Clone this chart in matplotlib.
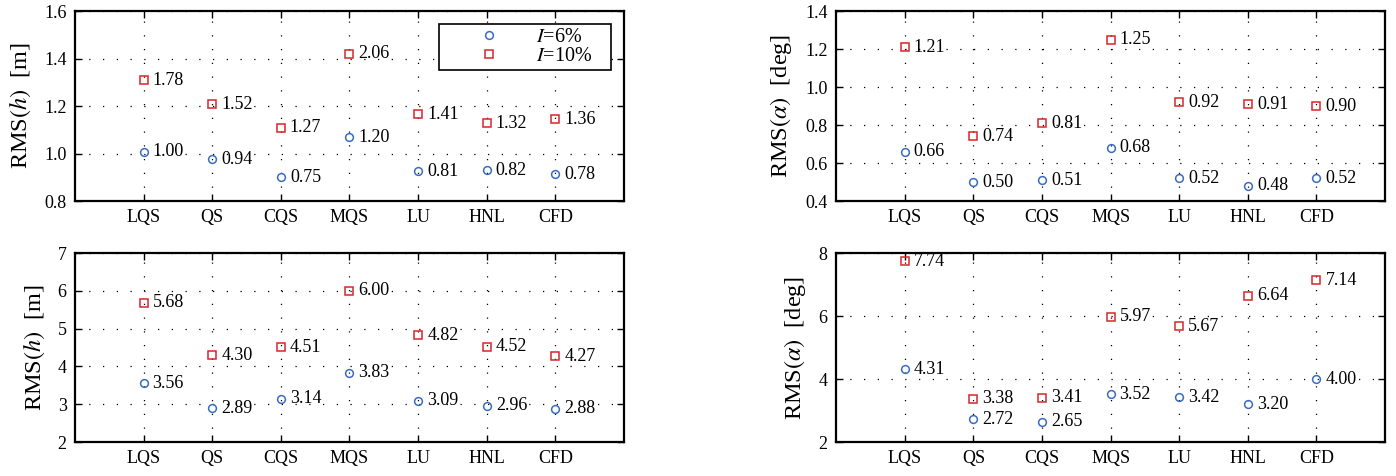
import matplotlib
matplotlib.use('Agg')
import matplotlib.pyplot as plt
from matplotlib.lines import Line2D

plt.rcParams['font.family'] = ['Liberation Serif', 'DejaVu Serif']
plt.rcParams['mathtext.fontset'] = 'stix'

methods = ['LQS', 'QS', 'CQS', 'MQS', 'LU', 'HNL', 'CFD']

# heave, top panel (marker heights and printed labels)
h_top_i6 = [1.008, 0.976, 0.90, 1.068, 0.926, 0.93, 0.912]
h_top_i10 = [1.309, 1.208, 1.108, 1.42, 1.165, 1.127, 1.145]
h_top_i6_txt = ['1.00', '0.94', '0.75', '1.20', '0.81', '0.82', '0.78']
h_top_i10_txt = ['1.78', '1.52', '1.27', '2.06', '1.41', '1.32', '1.36']

# pitch, top panel
a_top_i6 = [0.66, 0.50, 0.51, 0.68, 0.52, 0.48, 0.52]
a_top_i10 = [1.21, 0.74, 0.81, 1.25, 0.92, 0.91, 0.90]

# heave, bottom panel
h_bot_i6 = [3.56, 2.89, 3.14, 3.83, 3.09, 2.96, 2.88]
h_bot_i10 = [5.68, 4.30, 4.51, 6.00, 4.82, 4.52, 4.27]

# pitch, bottom panel
a_bot_i6 = [4.31, 2.72, 2.65, 3.52, 3.42, 3.20, 4.00]
a_bot_i10 = [7.74, 3.38, 3.41, 5.97, 5.67, 6.64, 7.14]

blue = '#3a6cc0'
red = '#d7262b'

fig = plt.figure(figsize=(13.96, 4.76), dpi=100)
w = 0.3933
axs = [
    fig.add_axes([0.0537, 0.5777, w, 0.399]),
    fig.add_axes([0.5989, 0.5777, w, 0.399]),
    fig.add_axes([0.0537, 0.0714, w, 0.397]),
    fig.add_axes([0.5989, 0.0714, w, 0.397]),
]

panels = [
    (axs[0], h_top_i6, h_top_i10, h_top_i6_txt, h_top_i10_txt, (0.8, 1.6), [0.8, 1.0, 1.2, 1.4, 1.6], '%.1f', r'RMS$(h)$  [m]'),
    (axs[1], a_top_i6, a_top_i10, None, None, (0.4, 1.4), [0.4, 0.6, 0.8, 1.0, 1.2, 1.4], '%.1f', r'RMS$(\alpha)$  [deg]'),
    (axs[2], h_bot_i6, h_bot_i10, None, None, (2, 7), [2, 3, 4, 5, 6, 7], '%d', r'RMS$(h)$  [m]'),
    (axs[3], a_bot_i6, a_bot_i10, None, None, (2, 8), [2, 4, 6, 8], '%d', r'RMS$(\alpha)$  [deg]'),
]

x = list(range(1, len(methods) + 1))
ms_o, ms_s = 5.6, 5.2

for ax, v6, v10, t6, t10, ylim, yt, fmt, ylab in panels:
    if t6 is None:
        t6 = ['%.2f' % v for v in v6]
        t10 = ['%.2f' % v for v in v10]
    ax.plot(x, v6, 'o', ms=ms_o, mfc='none', mec=blue, mew=1.1, ls='none')
    ax.plot(x, v10, 's', ms=ms_s, mfc='none', mec=red, mew=1.1, ls='none')
    for xi, v, t in zip(x, v6, t6):
        ax.annotate(t, (xi, v), xytext=(6.5, 0), textcoords='offset points',
                    va='center', ha='left', fontsize=13)
    for xi, v, t in zip(x, v10, t10):
        ax.annotate(t, (xi, v), xytext=(6.5, 0), textcoords='offset points',
                    va='center', ha='left', fontsize=13)
    ax.set_xlim(0, 8)
    ax.set_ylim(*ylim)
    ax.set_xticks(x)
    ax.set_xticklabels(methods)
    ax.set_yticks(yt)
    ax.set_yticklabels([fmt % v for v in yt])
    ax.tick_params(direction='in', length=5, width=1, labelsize=13,
                   top=True, right=True, pad=6)
    ax.grid(True, color='black', lw=0.9, linestyle=(0, (1, 10)))
    for s in ax.spines.values():
        s.set_linewidth(1.6)
    ax.set_ylabel(ylab, fontsize=17.5, labelpad=8)

handles = [
    Line2D([], [], marker='o', ms=ms_o, mfc='none', mec=blue, mew=1.1, ls='none'),
    Line2D([], [], marker='s', ms=ms_s, mfc='none', mec=red, mew=1.1, ls='none'),
]
leg = axs[0].legend(handles, [r'$I$=6%', r'$I$=10%'], loc='upper left',
                    bbox_to_anchor=(0.663, 0.695, 0.3133, 0.237), mode='expand',
                    borderaxespad=0, fontsize=14.5, frameon=True, fancybox=False,
                    edgecolor='black', framealpha=1, handletextpad=0.0,
                    borderpad=0.2, labelspacing=0.0, handlelength=4.6)
leg.get_frame().set_linewidth(1.2)

fig.savefig('out.png', dpi=100)
